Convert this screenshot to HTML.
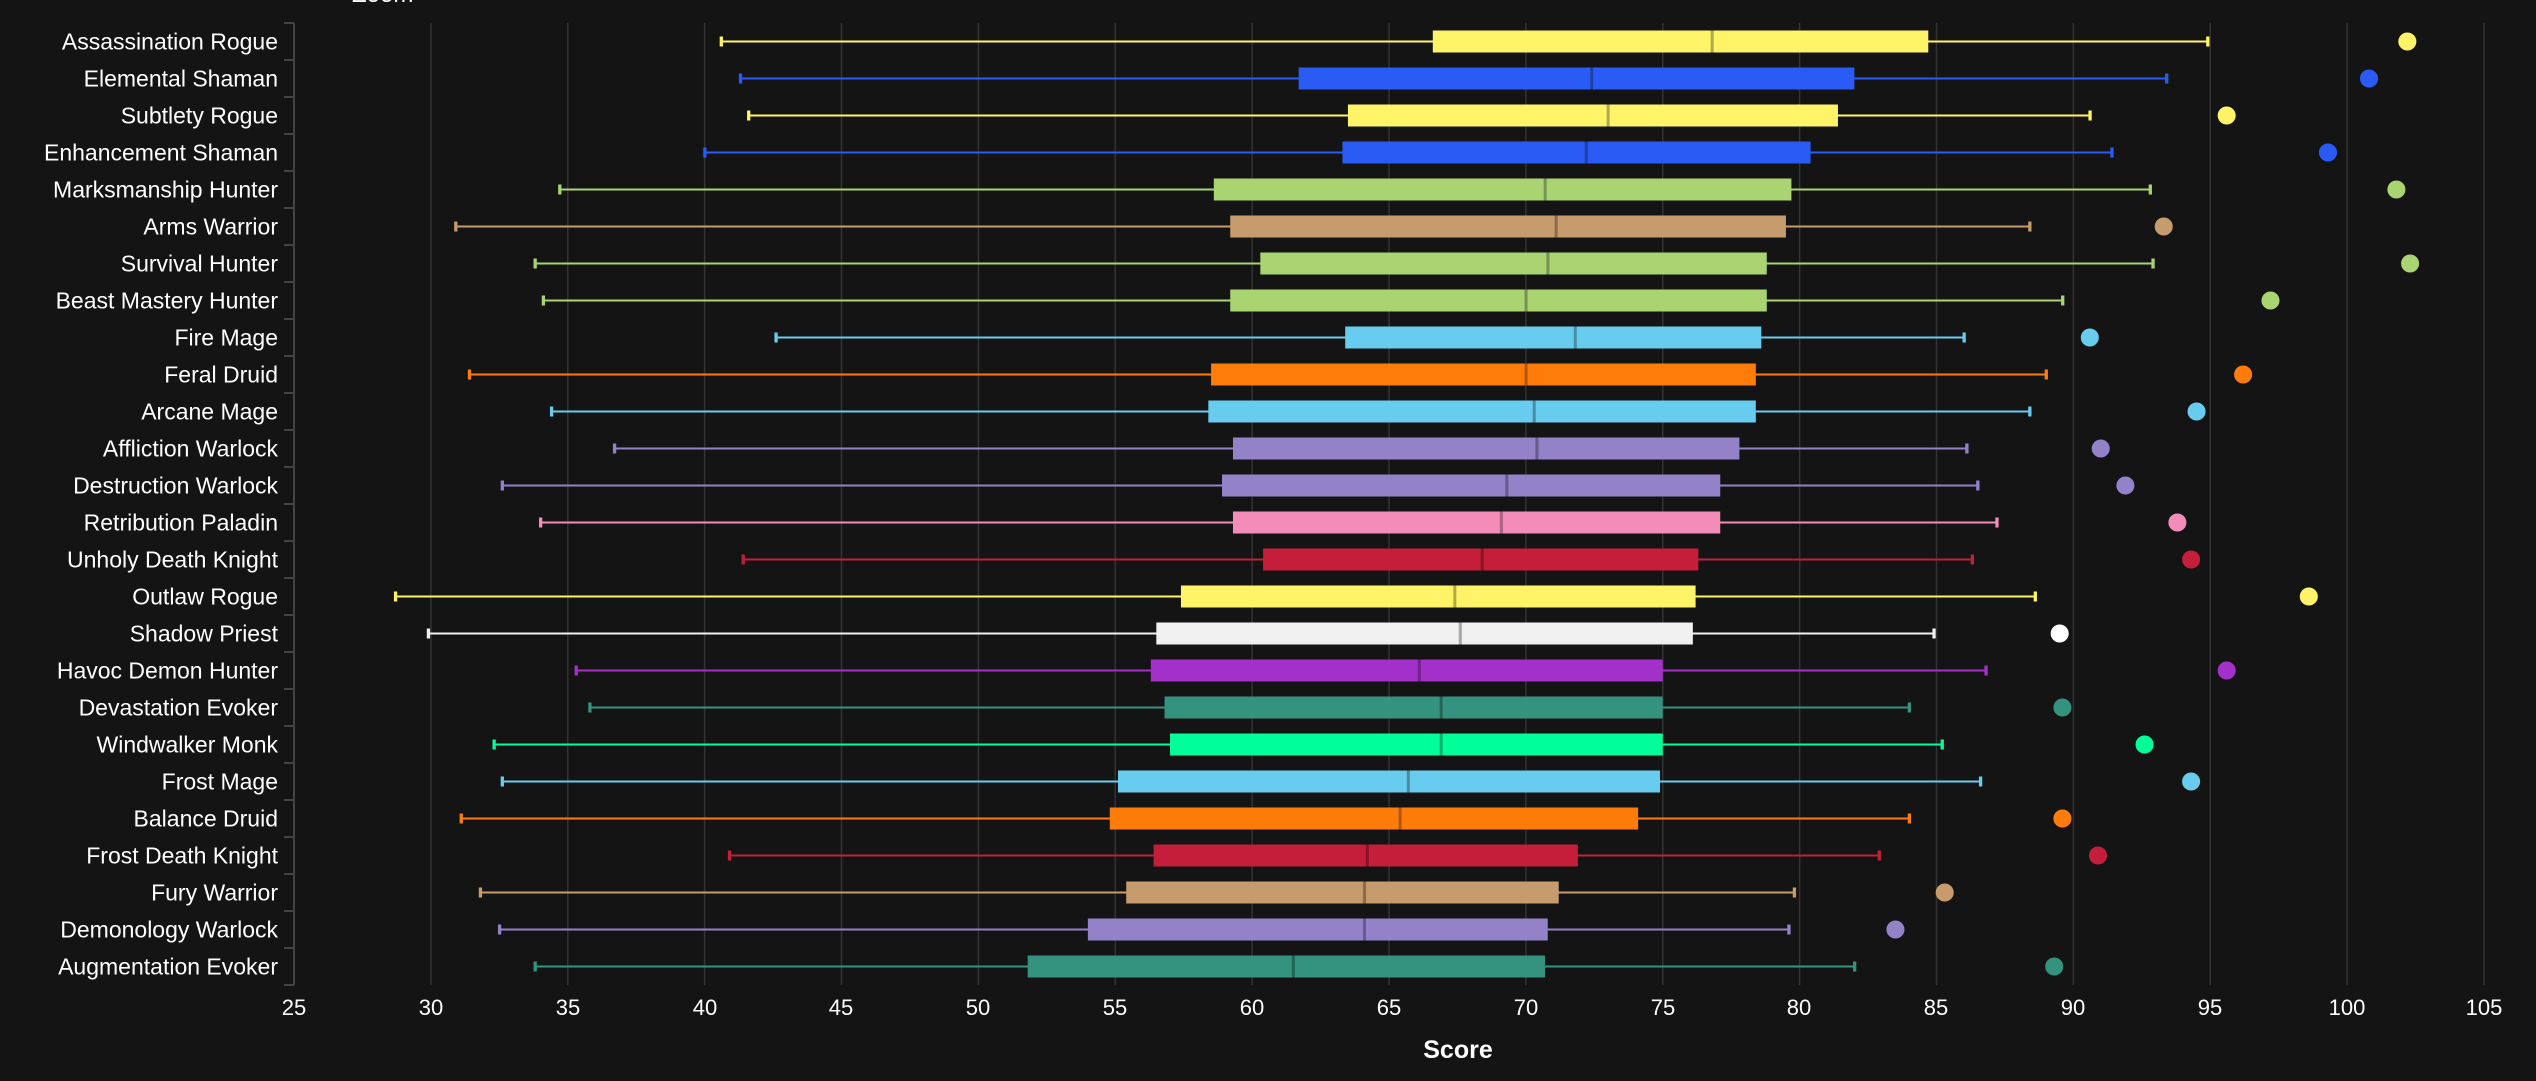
<!DOCTYPE html>
<html><head><meta charset="utf-8"><style>
html,body{margin:0;padding:0;background:#141414;}
svg{display:block}
.p line{stroke-width:2px;vector-effect:non-scaling-stroke}
.p .g{stroke:#333;stroke-width:1.5px;vector-effect:non-scaling-stroke}
.p .m{fill:rgba(0,0,0,.3);stroke:none}
.p rect,.p ellipse{stroke:none}
text{font-family:"Liberation Sans",sans-serif;fill:#fff}
</style></head><body>
<svg width="2536" height="1081" viewBox="0 0 2536 1081" xmlns="http://www.w3.org/2000/svg">
<rect width="2536" height="1081" fill="#141414"/>
<text x="352" y="2" font-size="24" fill="#ddd">Zoom</text>
<g class="p" transform="translate(-390.375,0) scale(27.375,1)">
<line class="g" x1="30" x2="30" y1="23" y2="985"/><line class="g" x1="35" x2="35" y1="23" y2="985"/><line class="g" x1="40" x2="40" y1="23" y2="985"/><line class="g" x1="45" x2="45" y1="23" y2="985"/><line class="g" x1="50" x2="50" y1="23" y2="985"/><line class="g" x1="55" x2="55" y1="23" y2="985"/><line class="g" x1="60" x2="60" y1="23" y2="985"/><line class="g" x1="65" x2="65" y1="23" y2="985"/><line class="g" x1="70" x2="70" y1="23" y2="985"/><line class="g" x1="75" x2="75" y1="23" y2="985"/><line class="g" x1="80" x2="80" y1="23" y2="985"/><line class="g" x1="85" x2="85" y1="23" y2="985"/><line class="g" x1="90" x2="90" y1="23" y2="985"/><line class="g" x1="95" x2="95" y1="23" y2="985"/><line class="g" x1="100" x2="100" y1="23" y2="985"/><line class="g" x1="105" x2="105" y1="23" y2="985"/>
<line x1="25" x2="25" y1="23" y2="985" stroke="#444"/>

<g transform="translate(0,41.5)" fill="#FFF468" stroke="#FFF468"><line x1="40.6" x2="94.9"/><rect x="40.55" y="-5" width=".12" height="10"/><rect x="94.85" y="-5" width=".12" height="10"/><rect x="66.6" y="-11" width="18.1" height="22"/><rect class="m" x="76.75" y="-11" width=".11" height="22"/><ellipse cx="102.2" rx=".33" ry="9"/></g>
<g transform="translate(0,78.5)" fill="#2a5cf5" stroke="#2a5cf5"><line x1="41.3" x2="93.4"/><rect x="41.25" y="-5" width=".12" height="10"/><rect x="93.35" y="-5" width=".12" height="10"/><rect x="61.7" y="-11" width="20.3" height="22"/><rect class="m" x="72.35" y="-11" width=".11" height="22"/><ellipse cx="100.8" rx=".33" ry="9"/></g>
<g transform="translate(0,115.5)" fill="#FFF468" stroke="#FFF468"><line x1="41.6" x2="90.6"/><rect x="41.55" y="-5" width=".12" height="10"/><rect x="90.55" y="-5" width=".12" height="10"/><rect x="63.5" y="-11" width="17.9" height="22"/><rect class="m" x="72.95" y="-11" width=".11" height="22"/><ellipse cx="95.6" rx=".33" ry="9"/></g>
<g transform="translate(0,152.5)" fill="#2a5cf5" stroke="#2a5cf5"><line x1="40.0" x2="91.4"/><rect x="39.95" y="-5" width=".12" height="10"/><rect x="91.35" y="-5" width=".12" height="10"/><rect x="63.3" y="-11" width="17.1" height="22"/><rect class="m" x="72.15" y="-11" width=".11" height="22"/><ellipse cx="99.3" rx=".33" ry="9"/></g>
<g transform="translate(0,189.5)" fill="#AAD372" stroke="#AAD372"><line x1="34.7" x2="92.8"/><rect x="34.65" y="-5" width=".12" height="10"/><rect x="92.75" y="-5" width=".12" height="10"/><rect x="58.6" y="-11" width="21.1" height="22"/><rect class="m" x="70.65" y="-11" width=".11" height="22"/><ellipse cx="101.8" rx=".33" ry="9"/></g>
<g transform="translate(0,226.5)" fill="#C69B6D" stroke="#C69B6D"><line x1="30.9" x2="88.4"/><rect x="30.85" y="-5" width=".12" height="10"/><rect x="88.35" y="-5" width=".12" height="10"/><rect x="59.2" y="-11" width="20.3" height="22"/><rect class="m" x="71.05" y="-11" width=".11" height="22"/><ellipse cx="93.3" rx=".33" ry="9"/></g>
<g transform="translate(0,263.5)" fill="#AAD372" stroke="#AAD372"><line x1="33.8" x2="92.9"/><rect x="33.75" y="-5" width=".12" height="10"/><rect x="92.85" y="-5" width=".12" height="10"/><rect x="60.3" y="-11" width="18.5" height="22"/><rect class="m" x="70.75" y="-11" width=".11" height="22"/><ellipse cx="102.3" rx=".33" ry="9"/></g>
<g transform="translate(0,300.5)" fill="#AAD372" stroke="#AAD372"><line x1="34.1" x2="89.6"/><rect x="34.05" y="-5" width=".12" height="10"/><rect x="89.55" y="-5" width=".12" height="10"/><rect x="59.2" y="-11" width="19.6" height="22"/><rect class="m" x="69.95" y="-11" width=".11" height="22"/><ellipse cx="97.2" rx=".33" ry="9"/></g>
<g transform="translate(0,337.5)" fill="#68CCEF" stroke="#68CCEF"><line x1="42.6" x2="86.0"/><rect x="42.55" y="-5" width=".12" height="10"/><rect x="85.95" y="-5" width=".12" height="10"/><rect x="63.4" y="-11" width="15.2" height="22"/><rect class="m" x="71.75" y="-11" width=".11" height="22"/><ellipse cx="90.6" rx=".33" ry="9"/></g>
<g transform="translate(0,374.5)" fill="#FF7C0A" stroke="#FF7C0A"><line x1="31.4" x2="89.0"/><rect x="31.35" y="-5" width=".12" height="10"/><rect x="88.95" y="-5" width=".12" height="10"/><rect x="58.5" y="-11" width="19.9" height="22"/><rect class="m" x="69.95" y="-11" width=".11" height="22"/><ellipse cx="96.2" rx=".33" ry="9"/></g>
<g transform="translate(0,411.5)" fill="#68CCEF" stroke="#68CCEF"><line x1="34.4" x2="88.4"/><rect x="34.35" y="-5" width=".12" height="10"/><rect x="88.35" y="-5" width=".12" height="10"/><rect x="58.4" y="-11" width="20.0" height="22"/><rect class="m" x="70.25" y="-11" width=".11" height="22"/><ellipse cx="94.5" rx=".33" ry="9"/></g>
<g transform="translate(0,448.5)" fill="#9482C9" stroke="#9482C9"><line x1="36.7" x2="86.1"/><rect x="36.65" y="-5" width=".12" height="10"/><rect x="86.05" y="-5" width=".12" height="10"/><rect x="59.3" y="-11" width="18.5" height="22"/><rect class="m" x="70.35" y="-11" width=".11" height="22"/><ellipse cx="91.0" rx=".33" ry="9"/></g>
<g transform="translate(0,485.5)" fill="#9482C9" stroke="#9482C9"><line x1="32.6" x2="86.5"/><rect x="32.55" y="-5" width=".12" height="10"/><rect x="86.45" y="-5" width=".12" height="10"/><rect x="58.9" y="-11" width="18.2" height="22"/><rect class="m" x="69.25" y="-11" width=".11" height="22"/><ellipse cx="91.9" rx=".33" ry="9"/></g>
<g transform="translate(0,522.5)" fill="#F48CBA" stroke="#F48CBA"><line x1="34.0" x2="87.2"/><rect x="33.95" y="-5" width=".12" height="10"/><rect x="87.15" y="-5" width=".12" height="10"/><rect x="59.3" y="-11" width="17.8" height="22"/><rect class="m" x="69.05" y="-11" width=".11" height="22"/><ellipse cx="93.8" rx=".33" ry="9"/></g>
<g transform="translate(0,559.5)" fill="#C41E3A" stroke="#C41E3A"><line x1="41.4" x2="86.3"/><rect x="41.35" y="-5" width=".12" height="10"/><rect x="86.25" y="-5" width=".12" height="10"/><rect x="60.4" y="-11" width="15.9" height="22"/><rect class="m" x="68.35" y="-11" width=".11" height="22"/><ellipse cx="94.3" rx=".33" ry="9"/></g>
<g transform="translate(0,596.5)" fill="#FFF468" stroke="#FFF468"><line x1="28.7" x2="88.6"/><rect x="28.65" y="-5" width=".12" height="10"/><rect x="88.55" y="-5" width=".12" height="10"/><rect x="57.4" y="-11" width="18.8" height="22"/><rect class="m" x="67.35" y="-11" width=".11" height="22"/><ellipse cx="98.6" rx=".33" ry="9"/></g>
<g transform="translate(0,633.5)" fill="#F0F0F0" stroke="#F0F0F0"><line x1="29.9" x2="84.9"/><rect x="29.85" y="-5" width=".12" height="10"/><rect x="84.85" y="-5" width=".12" height="10"/><rect x="56.5" y="-11" width="19.6" height="22"/><rect class="m" x="67.55" y="-11" width=".11" height="22"/><ellipse cx="89.5" rx=".33" ry="9" fill="#fff"/></g>
<g transform="translate(0,670.5)" fill="#A330C9" stroke="#A330C9"><line x1="35.3" x2="86.8"/><rect x="35.25" y="-5" width=".12" height="10"/><rect x="86.75" y="-5" width=".12" height="10"/><rect x="56.3" y="-11" width="18.7" height="22"/><rect class="m" x="66.05" y="-11" width=".11" height="22"/><ellipse cx="95.6" rx=".33" ry="9"/></g>
<g transform="translate(0,707.5)" fill="#33937F" stroke="#33937F"><line x1="35.8" x2="84.0"/><rect x="35.75" y="-5" width=".12" height="10"/><rect x="83.95" y="-5" width=".12" height="10"/><rect x="56.8" y="-11" width="18.2" height="22"/><rect class="m" x="66.85" y="-11" width=".11" height="22"/><ellipse cx="89.6" rx=".33" ry="9"/></g>
<g transform="translate(0,744.5)" fill="#00FF98" stroke="#00FF98"><line x1="32.3" x2="85.2"/><rect x="32.25" y="-5" width=".12" height="10"/><rect x="85.15" y="-5" width=".12" height="10"/><rect x="57.0" y="-11" width="18.0" height="22"/><rect class="m" x="66.85" y="-11" width=".11" height="22"/><ellipse cx="92.6" rx=".33" ry="9"/></g>
<g transform="translate(0,781.5)" fill="#68CCEF" stroke="#68CCEF"><line x1="32.6" x2="86.6"/><rect x="32.55" y="-5" width=".12" height="10"/><rect x="86.55" y="-5" width=".12" height="10"/><rect x="55.1" y="-11" width="19.8" height="22"/><rect class="m" x="65.65" y="-11" width=".11" height="22"/><ellipse cx="94.3" rx=".33" ry="9"/></g>
<g transform="translate(0,818.5)" fill="#FF7C0A" stroke="#FF7C0A"><line x1="31.1" x2="84.0"/><rect x="31.05" y="-5" width=".12" height="10"/><rect x="83.95" y="-5" width=".12" height="10"/><rect x="54.8" y="-11" width="19.3" height="22"/><rect class="m" x="65.35" y="-11" width=".11" height="22"/><ellipse cx="89.6" rx=".33" ry="9"/></g>
<g transform="translate(0,855.5)" fill="#C41E3A" stroke="#C41E3A"><line x1="40.9" x2="82.9"/><rect x="40.85" y="-5" width=".12" height="10"/><rect x="82.85" y="-5" width=".12" height="10"/><rect x="56.4" y="-11" width="15.5" height="22"/><rect class="m" x="64.15" y="-11" width=".11" height="22"/><ellipse cx="90.9" rx=".33" ry="9"/></g>
<g transform="translate(0,892.5)" fill="#C69B6D" stroke="#C69B6D"><line x1="31.8" x2="79.8"/><rect x="31.75" y="-5" width=".12" height="10"/><rect x="79.75" y="-5" width=".12" height="10"/><rect x="55.4" y="-11" width="15.8" height="22"/><rect class="m" x="64.05" y="-11" width=".11" height="22"/><ellipse cx="85.3" rx=".33" ry="9"/></g>
<g transform="translate(0,929.5)" fill="#9482C9" stroke="#9482C9"><line x1="32.5" x2="79.6"/><rect x="32.45" y="-5" width=".12" height="10"/><rect x="79.55" y="-5" width=".12" height="10"/><rect x="54.0" y="-11" width="16.8" height="22"/><rect class="m" x="64.05" y="-11" width=".11" height="22"/><ellipse cx="83.5" rx=".33" ry="9"/></g>
<g transform="translate(0,966.5)" fill="#33937F" stroke="#33937F"><line x1="33.8" x2="82.0"/><rect x="33.75" y="-5" width=".12" height="10"/><rect x="81.95" y="-5" width=".12" height="10"/><rect x="51.8" y="-11" width="18.9" height="22"/><rect class="m" x="61.45" y="-11" width=".11" height="22"/><ellipse cx="89.3" rx=".33" ry="9"/></g>
</g>
<g stroke="#444" stroke-width="2">
<line x1="284" x2="294" y1="23" y2="23"/><line x1="284" x2="294" y1="60" y2="60"/><line x1="284" x2="294" y1="97" y2="97"/><line x1="284" x2="294" y1="134" y2="134"/><line x1="284" x2="294" y1="171" y2="171"/><line x1="284" x2="294" y1="208" y2="208"/><line x1="284" x2="294" y1="245" y2="245"/><line x1="284" x2="294" y1="282" y2="282"/><line x1="284" x2="294" y1="319" y2="319"/><line x1="284" x2="294" y1="356" y2="356"/><line x1="284" x2="294" y1="393" y2="393"/><line x1="284" x2="294" y1="430" y2="430"/><line x1="284" x2="294" y1="467" y2="467"/><line x1="284" x2="294" y1="504" y2="504"/><line x1="284" x2="294" y1="541" y2="541"/><line x1="284" x2="294" y1="578" y2="578"/><line x1="284" x2="294" y1="615" y2="615"/><line x1="284" x2="294" y1="652" y2="652"/><line x1="284" x2="294" y1="689" y2="689"/><line x1="284" x2="294" y1="726" y2="726"/><line x1="284" x2="294" y1="763" y2="763"/><line x1="284" x2="294" y1="800" y2="800"/><line x1="284" x2="294" y1="837" y2="837"/><line x1="284" x2="294" y1="874" y2="874"/><line x1="284" x2="294" y1="911" y2="911"/><line x1="284" x2="294" y1="948" y2="948"/><line x1="284" x2="294" y1="985" y2="985"/>
</g>
<g font-size="23" text-anchor="end">
<text x="278" y="49.5">Assassination Rogue</text>
<text x="278" y="86.5">Elemental Shaman</text>
<text x="278" y="123.5">Subtlety Rogue</text>
<text x="278" y="160.5">Enhancement Shaman</text>
<text x="278" y="197.5">Marksmanship Hunter</text>
<text x="278" y="234.5">Arms Warrior</text>
<text x="278" y="271.5">Survival Hunter</text>
<text x="278" y="308.5">Beast Mastery Hunter</text>
<text x="278" y="345.5">Fire Mage</text>
<text x="278" y="382.5">Feral Druid</text>
<text x="278" y="419.5">Arcane Mage</text>
<text x="278" y="456.5">Affliction Warlock</text>
<text x="278" y="493.5">Destruction Warlock</text>
<text x="278" y="530.5">Retribution Paladin</text>
<text x="278" y="567.5">Unholy Death Knight</text>
<text x="278" y="604.5">Outlaw Rogue</text>
<text x="278" y="641.5">Shadow Priest</text>
<text x="278" y="678.5">Havoc Demon Hunter</text>
<text x="278" y="715.5">Devastation Evoker</text>
<text x="278" y="752.5">Windwalker Monk</text>
<text x="278" y="789.5">Frost Mage</text>
<text x="278" y="826.5">Balance Druid</text>
<text x="278" y="863.5">Frost Death Knight</text>
<text x="278" y="900.5">Fury Warrior</text>
<text x="278" y="937.5">Demonology Warlock</text>
<text x="278" y="974.5">Augmentation Evoker</text>
</g>
<g font-size="22" text-anchor="middle">
<text x="294" y="1015">25</text><text x="431" y="1015">30</text><text x="568" y="1015">35</text><text x="705" y="1015">40</text><text x="841" y="1015">45</text><text x="978" y="1015">50</text><text x="1115" y="1015">55</text><text x="1252" y="1015">60</text><text x="1389" y="1015">65</text><text x="1526" y="1015">70</text><text x="1663" y="1015">75</text><text x="1799" y="1015">80</text><text x="1936" y="1015">85</text><text x="2073" y="1015">90</text><text x="2210" y="1015">95</text><text x="2347" y="1015">100</text><text x="2484" y="1015">105</text>
</g>
<text x="1458" y="1058" font-size="25" font-weight="bold" text-anchor="middle">Score</text>
</svg>
</body></html>
